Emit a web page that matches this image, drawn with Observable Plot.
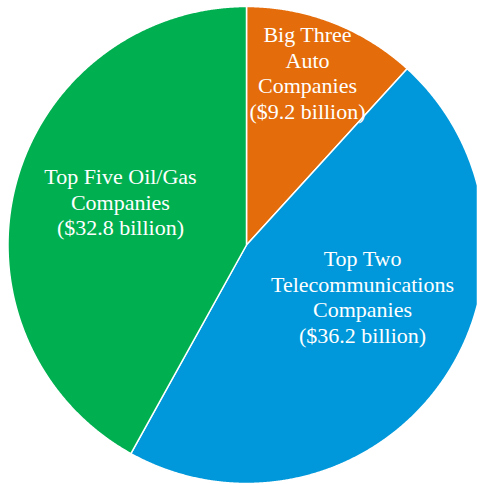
<!DOCTYPE html>
<html>
<head>
<meta charset="utf-8">
<script src="https://cdn.jsdelivr.net/npm/d3@7"></script>
<script src="https://cdn.jsdelivr.net/npm/@observablehq/plot@0.6"></script>
<style>
  html, body { margin: 0; padding: 0; background: #fff; }
  #chart svg { display: block; }
  #chart svg text { font-family: "Liberation Serif", "Times New Roman", serif; }
</style>
</head>
<body>
<div id="chart"></div>
<script>
// ---- data ----
const categories = ["Big Three Auto Companies", "Top Two Telecommunications Companies", "Top Five Oil/Gas Companies"];
const values = [9.2, 36.2, 32.8];
const labels = [
  "Big Three\nAuto\nCompanies\n($9.2 billion)",
  "Top Two\nTelecommunications\nCompanies\n($36.2 billion)",
  "Top Five Oil/Gas\nCompanies\n($32.8 billion)"
];
const colors = ["#e46c0a", "#0098da", "#00b050"];

// ---- layout ----
const W = 477, H = 484;
const cx = 246, cy = 244.5, R = 238.5;
const labelRadius = [0.767, 0.532, 0.559];   // fraction of radius
const labelAngleShift = [-1.7, -11.8, 4.5];  // degrees from slice mid-angle

const total = d3.sum(values);
const toRad = Math.PI / 180;
let acc = 0;
const slices = categories.map((c, i) => {
  const a0 = acc / total * 360;
  acc += values[i];
  const a1 = acc / total * 360;
  return {category: c, value: values[i], label: labels[i], a0, a1, i};
});
const pt = (deg, r) => [cx + r * Math.sin(deg * toRad), cy - r * Math.cos(deg * toRad)];

const features = slices.map(s => {
  const ring = [[cx, cy]];
  const n = Math.max(2, Math.ceil((s.a1 - s.a0) / 0.25));
  for (let k = 0; k <= n; k++) ring.push(pt(s.a0 + (s.a1 - s.a0) * k / n, R));
  ring.push([cx, cy]);
  return {type: "Feature", properties: s, geometry: {type: "Polygon", coordinates: [ring]}};
});

const labelData = slices.map(s => {
  const ang = (s.a0 + s.a1) / 2 + labelAngleShift[s.i];
  const [x, y] = pt(ang, R * labelRadius[s.i]);
  return {...s, x, y};
});

const chart = Plot.plot({
  width: W,
  height: H,
  margin: 0,
  projection: () => d3.geoIdentity(),
  color: {domain: categories, range: colors},
  marks: [
    Plot.geo(features, {fill: d => d.properties.category, stroke: "white", strokeWidth: 1.5, strokeLinejoin: "round"}),
    Plot.text(labelData, {
      x: "x", y: "y", text: "label",
      fill: "white", fontSize: 22, lineHeight: 1.16,
      fontFamily: "Liberation Serif",
      textAnchor: "middle", lineAnchor: "middle"
    })
  ]
});
document.getElementById("chart").appendChild(chart);
</script>
</body>
</html>
